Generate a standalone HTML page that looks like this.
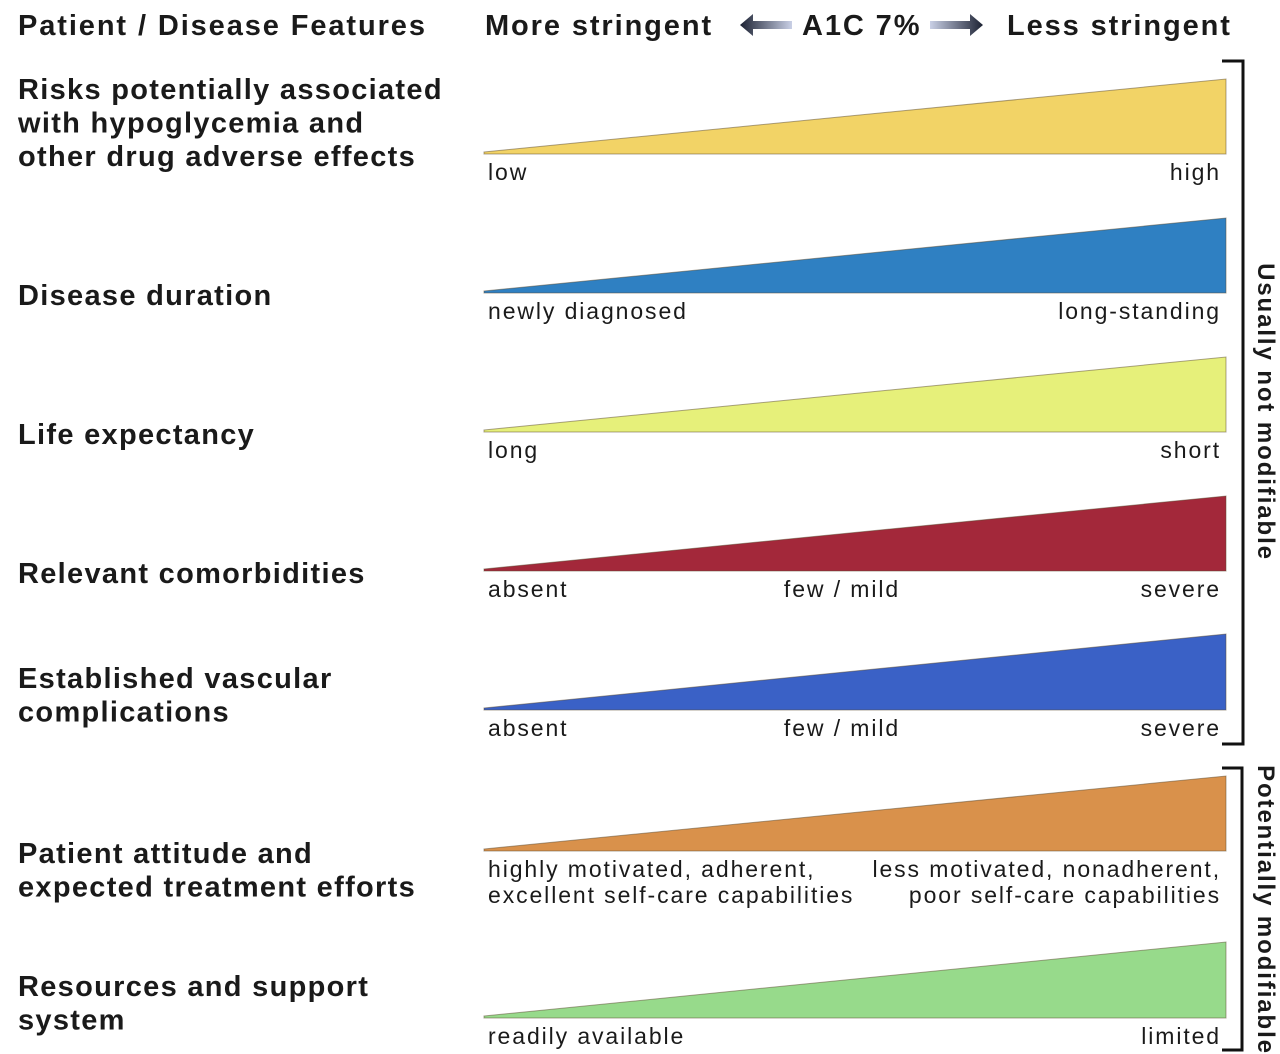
<!DOCTYPE html>
<html><head><meta charset="utf-8"><style>
html,body{margin:0;padding:0;background:#fff;}
svg{display:block;font-family:"Liberation Sans",sans-serif;}
.t{font-weight:bold;font-size:29px;fill:#1a1a1a;letter-spacing:1.3px;}
.h{font-weight:bold;font-size:29px;fill:#1a1a1a;letter-spacing:1.9px;}
.l{font-size:23px;fill:#1a1a1a;letter-spacing:1.9px;}
</style></head><body>
<svg id="c" width="1280" height="1054" viewBox="0 0 1280 1054">
<text class="h" x="18" y="35">Patient / Disease Features</text>
<text class="h" x="485" y="35">More stringent</text>
<text class="h" x="802" y="35">A1C 7%</text>
<text class="h" x="1007" y="35">Less stringent</text>
<defs>
<linearGradient id="gl" x1="0" x2="1"><stop offset="0" stop-color="#1c2233"/><stop offset="1" stop-color="#c9d0e6"/></linearGradient>
<linearGradient id="gr" x1="0" x2="1"><stop offset="0" stop-color="#c9d0e6"/><stop offset="1" stop-color="#1c2233"/></linearGradient>
</defs>
<g><polygon points="740,25 753,14 753,21 792,21 792,29 753,29 753,36" fill="url(#gl)"/></g>
<g><polygon points="930,21 970,21 970,14 983,25 970,36 970,29 930,29" fill="url(#gr)"/></g>
<g id="rows"></g>
<g>
<polyline points="1222,61 1243,61 1243,744 1222,744" fill="none" stroke="#111" stroke-width="3"/>
<text x="1258" y="412" font-size="24" font-weight="bold" fill="#1a1a1a" letter-spacing="1.9" text-anchor="middle" transform="rotate(90 1258 412)">Usually not modifiable</text>
</g>
<g>
<polyline points="1222,768 1242,768 1242,1050 1222,1050" fill="none" stroke="#111" stroke-width="3"/>
<text x="1258" y="910" font-size="24" font-weight="bold" fill="#1a1a1a" letter-spacing="1.9" text-anchor="middle" transform="rotate(90 1258 910)">Potentially modifiable</text>
</g>
</svg>
<script>
const titles=[["Risks potentially associated","with hypoglycemia and","other drug adverse effects"],["Disease duration"],["Life expectancy"],["Relevant comorbidities"],["Established vascular","complications"],["Patient attitude and","expected treatment efforts"],["Resources and support","system"]];
const titleY=[99,305,444,583,688,863,996];
const baselines=[154,293,432,571,710,851,1018];
const wedgeHeights=[75,75,75,75,76,75,76];
const colors=["#f2d366","#2f80c2","#e6f07a","#a3283a","#3a61c6","#d9914b","#97da8b"];
const leftLabels=[["low"],["newly diagnosed"],["long"],["absent"],["absent"],["highly motivated, adherent,","excellent self-care capabilities"],["readily available"]];
const midLabels=[null,null,null,"few / mild","few / mild",null,null];
const rightLabels=[["high"],["long-standing"],["short"],["severe"],["severe"],["less motivated, nonadherent,","poor self-care capabilities"],["limited"]];
const NS="http://www.w3.org/2000/svg";
const g=document.getElementById('rows');
const x0=484,x1=1226;
function txt(cls,x,y,s,anchor){const t=document.createElementNS(NS,'text');t.setAttribute('class',cls);t.setAttribute('x',x);t.setAttribute('y',y);if(anchor)t.setAttribute('text-anchor',anchor);t.textContent=s;return t;}
titles.forEach((lines,i)=>{
  const row=document.createElementNS(NS,'g');
  
  
  lines.forEach((s,j)=>{const t=txt('t',18,titleY[i]+j*33.5,s);
    
    
    row.appendChild(t);});
  const b=baselines[i],h=wedgeHeights[i];
  const p=document.createElementNS(NS,'polygon');
  p.setAttribute('points',`${x0},${b-2} ${x1},${b-h} ${x1},${b} ${x0},${b}`);
  p.setAttribute('fill',colors[i]);p.setAttribute('stroke','#5a4a30');p.setAttribute('stroke-opacity','0.5');p.setAttribute('stroke-width','1');
  
  
  row.appendChild(p);
  const ly=b+26;
  leftLabels[i].forEach((s,j)=>{const t=txt('l',488,ly+j*26,s);
    
    
    row.appendChild(t);});
  rightLabels[i].forEach((s,j)=>{const t=txt('l',1221,ly+j*26,s,'end');
    
    
    row.appendChild(t);});
  if(midLabels[i]){const t=txt('l',842,ly,midLabels[i],'middle');
    
    
    row.appendChild(t);}
  g.appendChild(row);
});
</script>
</body></html>
